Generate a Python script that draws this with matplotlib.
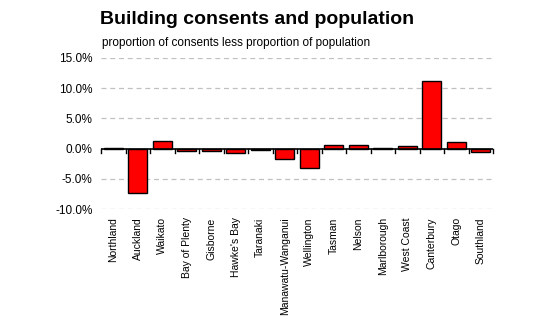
import matplotlib
matplotlib.use("Agg")
import matplotlib.pyplot as plt
from matplotlib.ticker import FuncFormatter, FixedLocator

# regions and the gap (percentage points) between consents share and population share
regions = ["Northland", "Auckland", "Waikato", "Bay of Plenty", "Gisborne",
           "Hawke's Bay", "Taranaki", "Manawatu-Wanganui", "Wellington",
           "Tasman", "Nelson", "Marlborough", "West Coast", "Canterbury",
           "Otago", "Southland"]
gap = [0.15, -7.3, 1.3, -0.4, -0.4, -0.8, -0.2, -1.8, -3.2,
       0.65, 0.65, 0.15, 0.35, 11.2, 1.1, -0.5]
yticks = [-10, -5, 0, 5, 10, 15]

plt.rcParams['font.family'] = ['Liberation Sans', 'DejaVu Sans']

fig = plt.figure(figsize=(5.5, 3.25), dpi=100)
ax = fig.add_axes([101 / 550, 1 - 209 / 325, 392 / 550, 151 / 325])

x = list(range(len(regions)))
ax.bar(x, gap, width=0.78, color="#ff0000", edgecolor="black", linewidth=1, zorder=3)

ax.set_xlim(-0.5, len(regions) - 0.5)
ax.set_ylim(-10, 15)

# dashed grid lines, solid zero line
for v in yticks:
    if v == 0:
        continue
    ax.axhline(v, color="#c0c0c0", linestyle=(0, (4, 3)), linewidth=0.9, zorder=1)
ax.axhline(0, color="black", linewidth=1.2, zorder=4)

# small ticks on the zero line between categories
for b in range(len(regions) + 1):
    ax.plot([b - 0.5, b - 0.5], [0, -0.7], color="black", linewidth=1, zorder=4,
            clip_on=False)

for s in ax.spines.values():
    s.set_visible(False)

ax.yaxis.set_major_locator(FixedLocator(yticks))
ax.yaxis.set_major_formatter(FuncFormatter(lambda v, p: f"{v:.1f}%"))
ax.tick_params(axis="y", length=0, pad=6, labelsize=8.5)

ax.set_xticks(x)
ax.set_xticklabels(regions, rotation=90, fontsize=7.5, va="top")
ax.tick_params(axis="x", length=0, pad=6)

fig.text(100 / 550, 1 - 20 / 325, "Building consents and population",
         fontsize=14, fontweight="bold", va="center", ha="left")
fig.text(102 / 550, 1 - 43 / 325, "proportion of consents less proportion of population",
         fontsize=8.5, va="center", ha="left")

fig.savefig("out.png", dpi=100)
